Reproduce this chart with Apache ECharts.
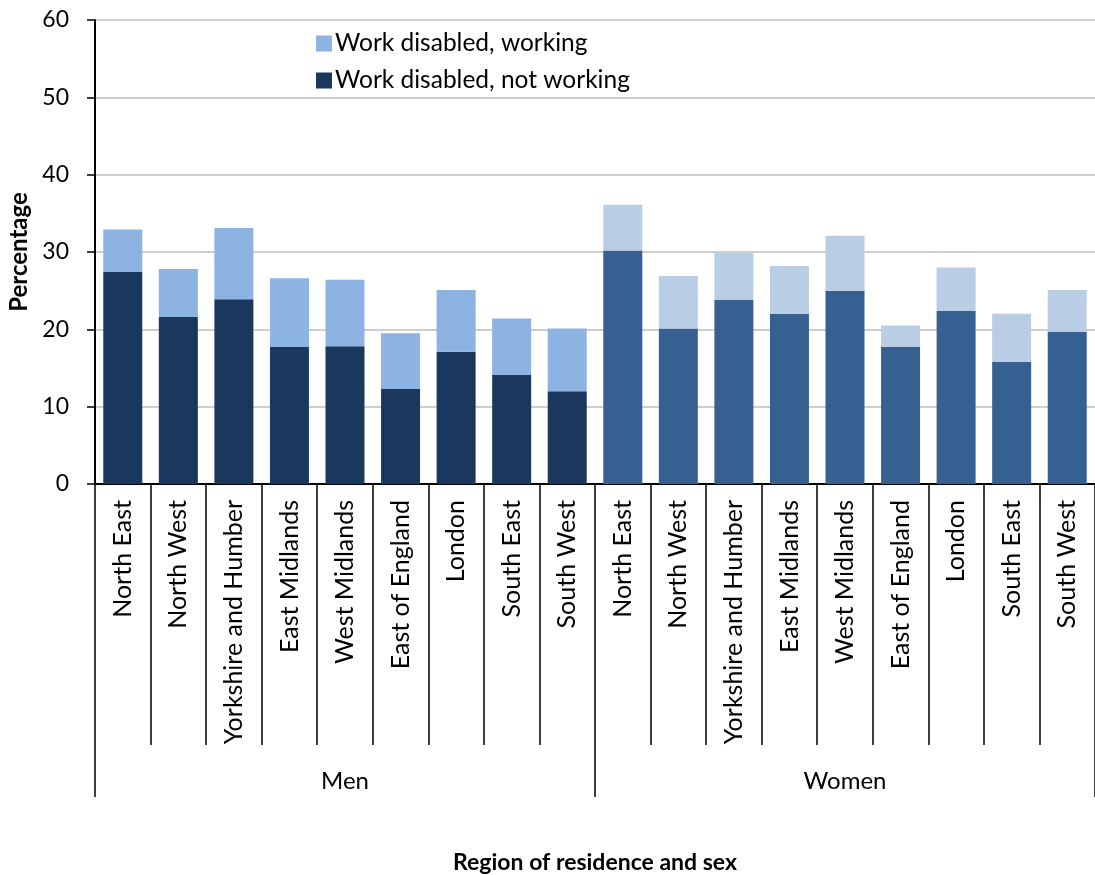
<!DOCTYPE html>
<html>
<head>
<meta charset="utf-8">
<script src="https://cdn.jsdelivr.net/npm/echarts@6/dist/echarts.min.js"></script>
<style>
  html, body { margin: 0; padding: 0; background: #fff; }
  #chart { width: 1095px; height: 875px; }
</style>
</head>
<body>
<div id="chart"></div>
<script>
// Regions, repeated for men then women
const regions = ['North East', 'North West', 'Yorkshire and Humber', 'East Midlands',
  'West Midlands', 'East of England', 'London', 'South East', 'South West'];
const categories = regions.concat(regions);
const groups = ['Men', 'Women'];

// Percentages of each group
const notWorking = [27.4, 21.6, 23.9, 17.7, 17.8, 12.3, 17.1, 14.1, 12.0,
                    30.2, 20.1, 23.8, 22.0, 25.0, 17.7, 22.4, 15.8, 19.7];
const working    = [5.5, 6.2, 9.2, 8.9, 8.6, 7.2, 8.0, 7.3, 8.1,
                    5.9, 6.8, 6.1, 6.2, 7.1, 2.8, 5.6, 6.2, 5.4];

const yTicks = [0, 10, 20, 30, 40, 50, 60];

const FONT = 'Lato';
const MEN_DARK = '#1A375E', MEN_LIGHT = '#8DB3E2';
const WOMEN_DARK = '#366092', WOMEN_LIGHT = '#B9CDE5';

function colored(values, menColor, womenColor) {
  return values.map((v, i) => ({
    value: v,
    itemStyle: { color: i < regions.length ? menColor : womenColor }
  }));
}

const chart = echarts.init(document.getElementById('chart'), null, { renderer: 'canvas' });

chart.setOption({
  animation: false,
  textStyle: { fontFamily: FONT },
  grid: { left: 95, right: 0, top: 20, bottom: 391, containLabel: false, outerBoundsMode: 'none' },
  legend: {
    left: 311, top: 26, orient: 'vertical',
    itemWidth: 16, itemHeight: 16, itemGap: 12,
    icon: 'rect',
    textStyle: { fontFamily: FONT, fontSize: 24.5, color: '#000', padding: [0, 0, 0, -2] },
    data: ['Work disabled, working', 'Work disabled, not working']
  },
  xAxis: [
    {
      type: 'category',
      data: categories,
      axisLine: { lineStyle: { color: '#000', width: 2 } },
      axisTick: { show: true, interval: 0, length: 261, lineStyle: { color: '#000', width: 1.5 } },
      axisLabel: { interval: 0, rotate: 90, margin: 16, fontFamily: FONT, fontSize: 25, color: '#000' }
    },
    {
      type: 'category',
      data: groups,
      position: 'bottom',
      axisLine: { show: false },
      axisTick: { show: true, length: 313, lineStyle: { color: '#000', width: 1.5 } },
      axisLabel: { margin: 285, fontFamily: FONT, fontSize: 24, color: '#000' },
      name: 'Region of residence and sex',
      nameLocation: 'middle',
      nameGap: 367,
      nameTextStyle: { fontFamily: FONT, fontSize: 23, fontWeight: 'bold', color: '#000' }
    }
  ],
  yAxis: {
    type: 'value',
    min: yTicks[0], max: yTicks[yTicks.length - 1], interval: 10,
    name: 'Percentage',
    nameLocation: 'middle',
    nameRotate: 90,
    nameGap: 58,
    nameTextStyle: { fontFamily: FONT, fontSize: 24, fontWeight: 'bold', color: '#000' },
    axisLine: { show: true, lineStyle: { color: '#000', width: 2 } },
    axisTick: { show: true, length: 8, lineStyle: { color: '#000', width: 1.5 } },
    axisLabel: { margin: 26, fontFamily: FONT, fontSize: 23, color: '#000' },
    splitLine: { lineStyle: { color: '#BEBEBE', width: 1.5 } }
  },
  series: [
    {
      name: 'Work disabled, not working',
      type: 'bar', stack: 'total', barWidth: 39,
      itemStyle: { color: MEN_DARK },
      data: colored(notWorking, MEN_DARK, WOMEN_DARK)
    },
    {
      name: 'Work disabled, working',
      type: 'bar', stack: 'total', barWidth: 39,
      itemStyle: { color: MEN_LIGHT },
      data: colored(working, MEN_LIGHT, WOMEN_LIGHT)
    }
  ]
});
</script>
</body>
</html>
